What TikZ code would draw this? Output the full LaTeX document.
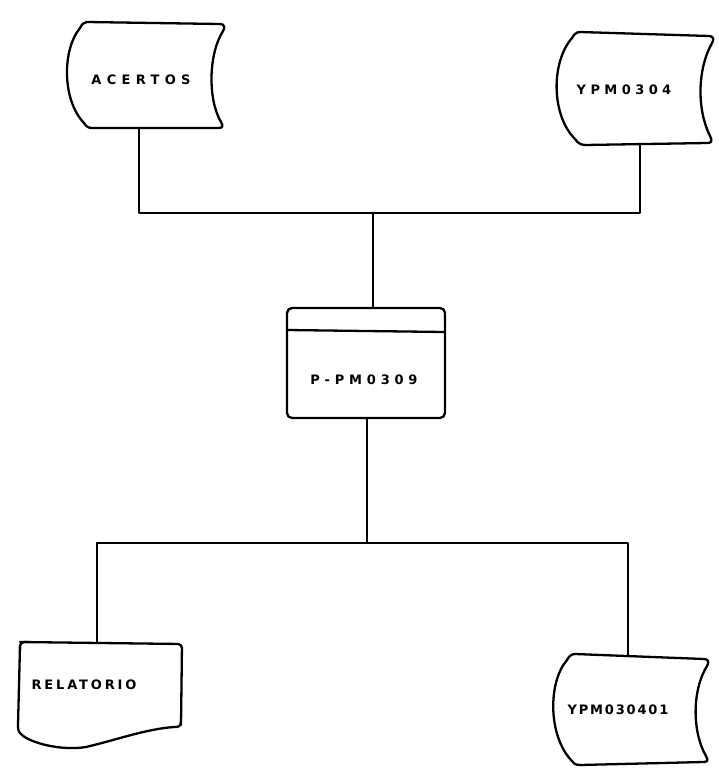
\documentclass[tikz,border=0pt]{standalone}
\usepackage{fontspec}
\usetikzlibrary{calc}
\newfontfamily\lblfont{DejaVu Sans Bold}
\newcommand\lsp[1]{\addfontfeature{LetterSpace=#1}}
\begin{document}
\begin{tikzpicture}[x=1pt,y=-1pt,
  line width=2.2pt, line join=round, line cap=round,
  lbl/.style={inner sep=0pt, font=\lblfont\fontsize{13}{14}\selectfont},
  outline/.style={line width=2.3pt}]
\useasboundingbox (0,0) rectangle (719,774);

% nodes (text)
\node[lbl] (acertos) at (141,80) {\lsp{41}ACERTOS};
\node[lbl] (ypm) at (624,90) {\lsp{34}YPM0304};
\node[lbl] (proc) at (364,380) {\lsp{37}P-PM0309};
\node[lbl] (rel) at (84,685) {\lsp{22}RELATORIO};
\node[lbl] (ypmb) at (618,710) {\lsp{14}YPM030401};

% ACERTOS stored data
\draw[outline, shift={(acertos)}]
  (-54,-58) -- (79,-56)
  .. controls (84,-56) and (84,-52) .. (82,-49)
  .. controls (67,-25) and (67,20) .. (80,42)
  .. controls (83,47) and (81,48) .. (77,48)
  -- (-49,48)
  .. controls (-53,48) and (-55,46) .. (-57,43)
  .. controls (-79,20) and (-79,-30) .. (-61,-52)
  .. controls (-59,-56) and (-57,-58) .. cycle;
\coordinate (acertos-s) at ($(acertos)+(-2,48)$);

% YPM0304 stored data
\draw[outline, shift={(ypm)}]
  (-44,-58) -- (85,-54)
  .. controls (90,-54) and (90,-50) .. (88,-47)
  .. controls (73,-20) and (73,20) .. (86,46)
  .. controls (89,52) and (87,53) .. (83,53)
  -- (-39,55)
  .. controls (-44,55) and (-47,52) .. (-49,49)
  .. controls (-73,25) and (-73,-28) .. (-52,-52)
  .. controls (-50,-56) and (-47,-58) .. cycle;
\coordinate (ypm-s) at ($(ypm)+(16,54)$);

% process box
\draw[outline, rounded corners=5pt, shift={(proc)}] (-77,-72) rectangle (81,38);
\draw[outline, shift={(proc)}] (-77,-50) -- (81,-48);
\coordinate (proc-n) at ($(proc)+(9,-72)$);
\coordinate (proc-s) at ($(proc)+(3,38)$);

% RELATORIO document
\draw[outline, rounded corners=4pt, shift={(rel)}]
  (-64,-43) -- (98,-41) -- (97,40);
\draw[outline, shift={(rel)}]
  (97,36) .. controls (97,42) and (94,42) .. (90,42)
  .. controls (62,44) and (32,55) .. (2,62)
  .. controls (-23,66) and (-53,58) .. (-62,50)
  .. controls (-66,47) and (-66,44) .. (-66,40)
  -- (-64,-39);
\draw[outline, rounded corners=4pt, shift={(rel)}] (-64,-35) -- (-64,-43) -- (-56,-43);
\coordinate (rel-n) at ($(rel)+(13,-42)$);

% YPM030401 stored data
\draw[outline, shift={(ypmb)}]
  (-43,-56) -- (86,-51)
  .. controls (91,-51) and (91,-47) .. (89,-44)
  .. controls (74,-20) and (74,22) .. (88,46)
  .. controls (91,51) and (89,52) .. (85,52)
  -- (-38,55)
  .. controls (-43,55) and (-45,53) .. (-47,50)
  .. controls (-70,25) and (-70,-28) .. (-51,-50)
  .. controls (-49,-54) and (-46,-56) .. cycle;
\coordinate (ypmb-n) at ($(ypmb)+(10,-54)$);

% junctions
\coordinate (jt) at (373,213);
\coordinate (jb) at (367,543);

% connectors
\draw (acertos-s) |- (jt);
\draw (ypm-s) |- (jt);
\draw (jt) -- (proc-n);
\draw (proc-s) -- (jb);
\draw (jb) -| (rel-n);
\draw (jb) -| (ypmb-n);
\end{tikzpicture}
\end{document}
